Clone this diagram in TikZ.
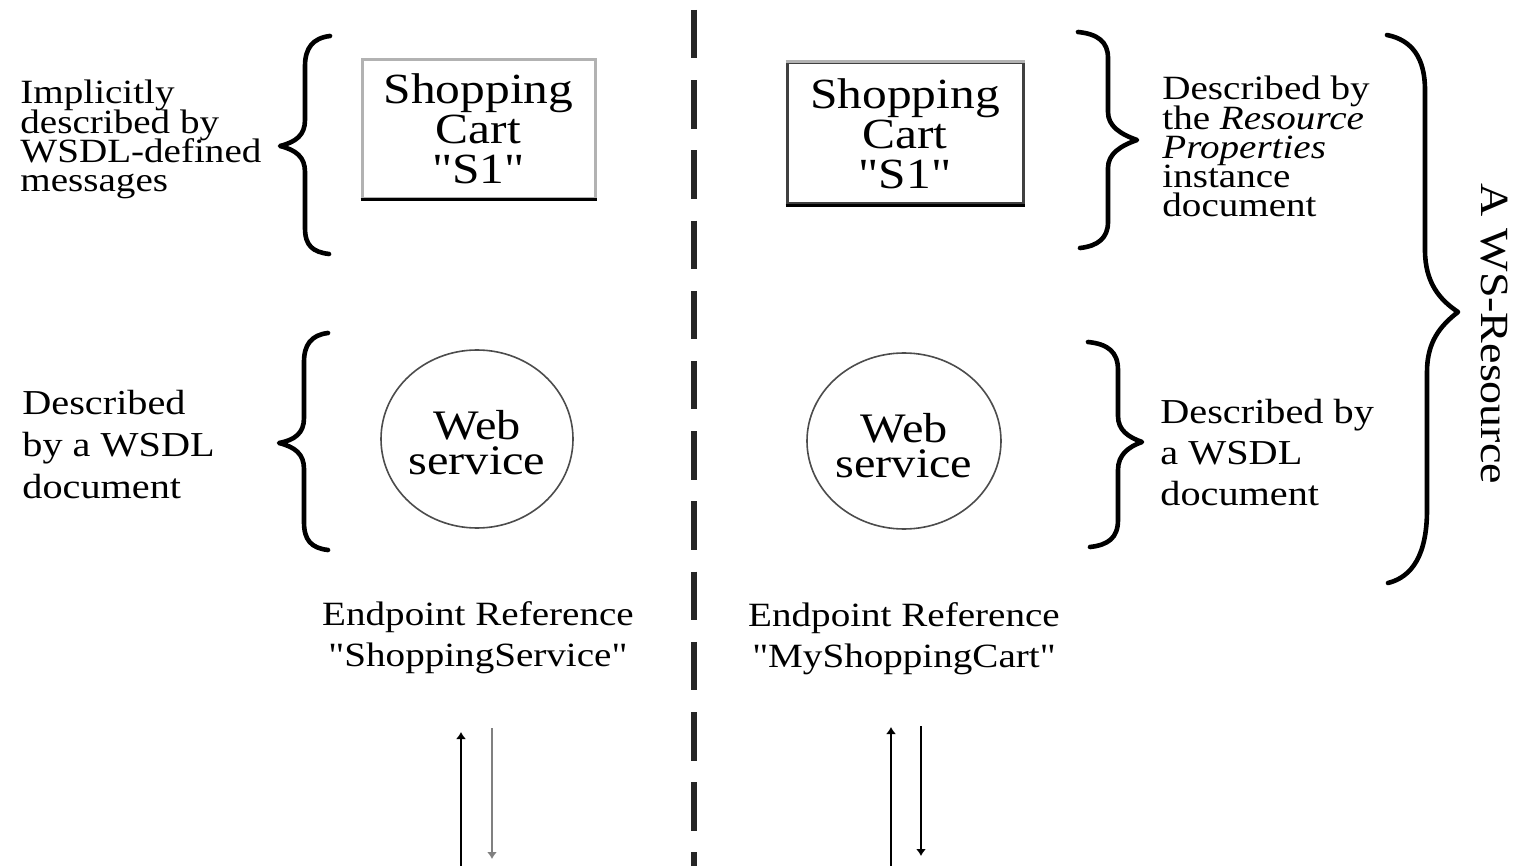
\documentclass[tikz,border=0pt]{standalone}
\usepackage{fontspec}
\setmainfont{Liberation Serif}[FakeStretch=1.15, Ligatures=TeXOff]
\usetikzlibrary{shapes.geometric,arrows.meta}
\newcommand\mylsl{\lineskiplimit=-50pt\relax}
\begin{document}
\begin{tikzpicture}[x=0.5pt,y=-0.5pt,
  brace/.style={line width=2.3pt, line cap=round, line join=round},
  cartbox/.style={line width=1.5pt, minimum width=116.5pt, minimum height=69.5pt, inner sep=0pt, align=center,
    font={\fontsize{21.5}{20}\selectfont\mylsl}},
  wsell/.style={ellipse, draw=black!70, line width=0.8pt, inner sep=0pt},
  wstext/.style={align=center, inner sep=0pt, font={\fontsize{21}{17.5}\selectfont\mylsl}},
  desc/.style={align=left, inner sep=0pt, anchor=north west},
  tight/.style={font={\fontsize{17}{14.6}\selectfont\mylsl}},
  loose/.style={font={\fontsize{17.5}{#1}\selectfont\mylsl}},
  epr/.style={align=center, inner sep=0pt, anchor=north, font={\fontsize{17}{20.5}\selectfont\mylsl}},
  arr/.style={line width=1pt, -{Latex[length=3.5pt,width=5pt]}},
  divider/.style={line width=3pt, black!85, dash pattern=on 24.25pt off 10.85pt}
]
\path[fill=white, use as bounding box] (0,0) rectangle (1517,866);

% divider
\coordinate (dtop) at (694,10);
\coordinate (dbot) at (694,866);
\draw[divider] (dtop) -- (dbot);

% shopping cart boxes
\node[cartbox, draw=gray!60] (cart1) at (478.5,129) {Shopping\\Cart\\"S1"};
\draw[line width=1.5pt] (cart1.south west) -- (cart1.south east);
\node[cartbox, draw=black!75, minimum width=118pt, minimum height=70.5pt] (cart2) at (905,133.5) {Shopping\\Cart\\"S1"};
\draw[gray!60, line width=1.5pt] (cart2.north west) -- (cart2.north east);
\draw[line width=1.5pt] (cart2.south west) -- (cart2.south east);

% web services
\node[wsell, minimum width=96pt, minimum height=89pt] (ws1) at (477,439) {};
\node[wstext] (ws1t) at (477,443) {Web\\service};
\node[wsell, minimum width=97pt, minimum height=88pt] (ws2) at (904,441) {};
\node[wstext] (ws2t) at (904,446) {Web\\service};

% descriptions
\node[desc, tight] (impl) at (20,80) {Implicitly\\described by\\WSDL-defined\\messages};
\node[desc, tight] (rp) at (1162,76) {Described by\\the \textit{Resource}\\\textit{Properties}\\instance\\document};
\node[desc, loose=21] (wsdl1) at (22,390) {Described\\by a WSDL\\document};
\node[desc, loose=20.5] (wsdl2) at (1160,399) {Described by\\a WSDL\\document};

% endpoint references
\node[epr] (epr1) at (478,601) {Endpoint Reference\\"ShoppingService"};
\node[epr] (epr2) at (904,602) {Endpoint Reference\\"MyShoppingCart"};

% rotated label
\node[rotate=-90, inner sep=0pt, font={\fontsize{20}{24}\selectfont}] (wsr) at (1494,334) {A WS-Resource};

% braces
\draw[brace] (330,36) .. controls (313,38) and (305,48) .. (305,66) -- (305,120)
  .. controls (305,135) and (296,142) .. (280,146) .. controls (296,150) and (305,157) .. (305,172)
  -- (305,228) .. controls (305,246) and (313,252) .. (329,254);
\draw[brace] (328,333) .. controls (311,335) and (304,345) .. (304,362) -- (304,418)
  .. controls (304,433) and (295,440) .. (279,443) .. controls (295,447) and (304,454) .. (304,469)
  -- (304,522) .. controls (304,540) and (311,548) .. (328,550);
\draw[brace] (1078,32) .. controls (1098,34) and (1108,42) .. (1108,58) -- (1108,112)
  .. controls (1108,126) and (1120,134) .. (1137,140) .. controls (1120,146) and (1108,154) .. (1108,168)
  -- (1108,222) .. controls (1108,238) and (1098,246) .. (1080,248);
\draw[brace] (1088,342) .. controls (1108,344) and (1118,352) .. (1118,370) -- (1118,416)
  .. controls (1118,430) and (1128,437) .. (1142,442) .. controls (1128,447) and (1118,455) .. (1118,470)
  -- (1118,520) .. controls (1118,538) and (1108,545) .. (1090,547);
\draw[brace] (1387,35) .. controls (1412,40) and (1425,58) .. (1425,90) -- (1425,250)
  .. controls (1425,283) and (1440,300) .. (1458,312) .. controls (1440,326) and (1427,342) .. (1427,372)
  -- (1427,510) .. controls (1427,555) and (1412,577) .. (1388,583);

% arrows
\coordinate (a1s) at (461,866); \coordinate (a1e) at (461,732);
\coordinate (a2s) at (492,728); \coordinate (a2e) at (492,859);
\coordinate (a3s) at (891,866); \coordinate (a3e) at (891,727);
\coordinate (a4s) at (921,726); \coordinate (a4e) at (921,856);
\draw[arr] (a1s) -- (a1e);
\draw[arr, black!50] (a2s) -- (a2e);
\draw[arr] (a3s) -- (a3e);
\draw[arr] (a4s) -- (a4e);
\end{tikzpicture}
\end{document}
